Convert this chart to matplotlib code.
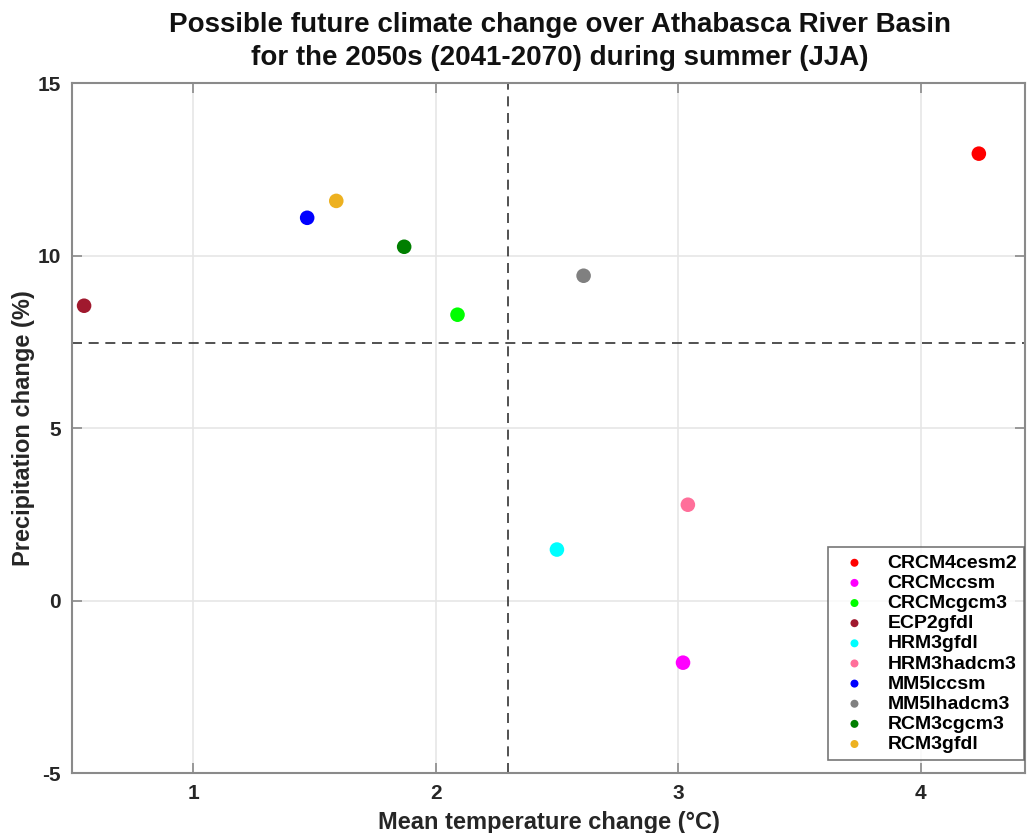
import matplotlib
matplotlib.use("Agg")
import matplotlib.pyplot as plt
import numpy as np

# Regional climate model runs
models = ["CRCM4cesm2", "CRCMccsm", "CRCMcgcm3", "ECP2gfdl", "HRM3gfdl",
          "HRM3hadcm3", "MM5Iccsm", "MM5Ihadcm3", "RCM3cgcm3", "RCM3gfdl"]
temp_change = [4.24, 3.02, 2.09, 0.55, 2.50, 3.04, 1.47, 2.61, 1.87, 1.59]
precip_change = [12.96, -1.80, 8.29, 8.55, 1.48, 2.78, 11.10, 9.42, 10.26, 11.59]
colors = ["#ff0000", "#ff00ff", "#00ff00", "#a0192e", "#00ffff",
          "#ff6f9a", "#0000ff", "#808080", "#007f00", "#edb120"]

x_ticks = [1, 2, 3, 4]
y_ticks = [-5, 0, 5, 10, 15]

plt.rcParams["font.family"] = ["Liberation Sans", "DejaVu Sans"]
plt.rcParams["axes.unicode_minus"] = False

fig = plt.figure(figsize=(10.28, 8.33), dpi=100)
ax = fig.add_axes([0.070, 0.072, 0.927, 0.828])

for name, x, y, c in zip(models, temp_change, precip_change, colors):
    ax.scatter(x, y, s=110, color=c, label=name, zorder=3, edgecolors="none")

# dashed lines at the ensemble mean
ax.axvline(np.mean(temp_change), color="#333333", ls=(0, (6, 4)), lw=1.2, zorder=2)
ax.axhline(np.mean(precip_change), color="#333333", ls=(0, (6, 4)), lw=1.2, zorder=2)

ax.set_xlim(0.5, 4.43)
ax.set_ylim(-5, 15)
ax.set_xticks(x_ticks)
ax.set_yticks(y_ticks)
ax.grid(True, color="#e6e6e6", lw=1.2, zorder=0)
ax.set_axisbelow(True)
for s in ax.spines.values():
    s.set_color("#8a8a8a")
    s.set_linewidth(1.5)
ax.tick_params(direction="in", length=7, width=1.2, color="#8a8a8a",
               labelsize=15, labelcolor="#262626", pad=8, top=True, right=True)
for lab in ax.get_xticklabels() + ax.get_yticklabels():
    lab.set_fontweight("bold")

ax.set_xlabel("Mean temperature change (°C)", fontsize=17, fontweight="bold",
              color="#262626", labelpad=6)
ax.set_ylabel("Precipitation change (%)", fontsize=17, fontweight="bold",
              color="#262626", labelpad=2)
ax.set_title("Possible future climate change over Athabasca River Basin\n"
             "for the 2050s (2041-2070) during summer (JJA)",
             fontsize=20, fontweight="bold", color="#111111", pad=13,
             linespacing=1.35, x=0.512)

leg = ax.legend(loc="lower right", prop={"weight": "bold", "size": 14},
                frameon=True, fancybox=False, handletextpad=0.7, labelspacing=0.13,
                borderpad=0.35, markerscale=0.55, borderaxespad=0,
                bbox_to_anchor=(0.999, 0.019))
leg.get_frame().set_edgecolor("#555555")
leg.get_frame().set_linewidth(1.2)

fig.savefig("out.png", dpi=100)
